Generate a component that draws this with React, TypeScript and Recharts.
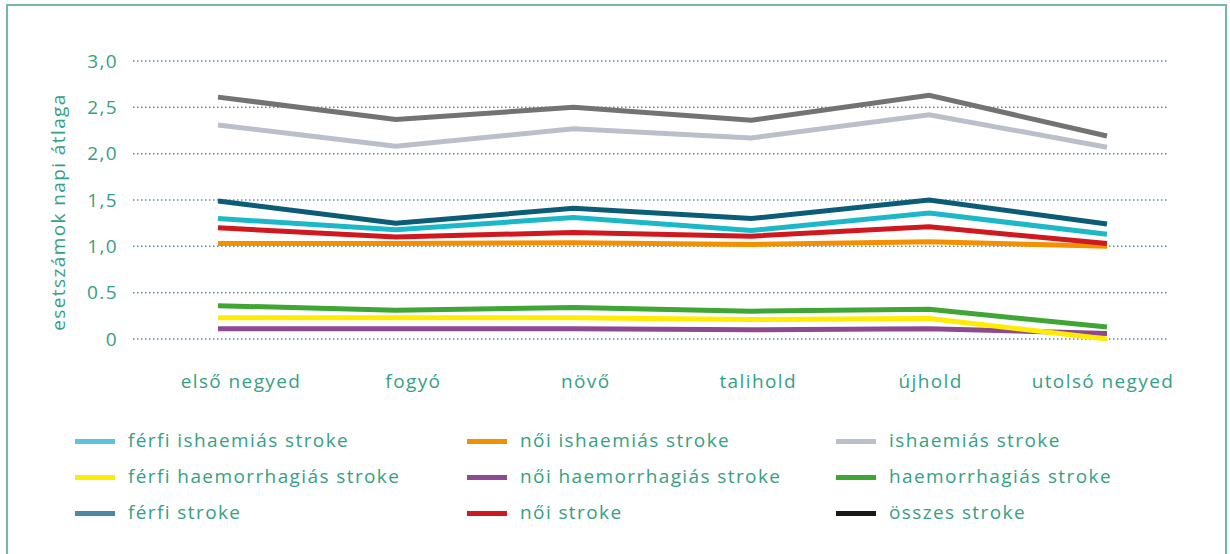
import React from 'react';
import { LineChart, Line, XAxis, YAxis, CartesianGrid } from 'recharts';

const phases = ['első negyed', 'fogyó', 'növő', 'talihold', 'újhold', 'utolsó negyed'];

const ferfiIsch = [1.30, 1.18, 1.31, 1.17, 1.36, 1.13];
const noiIsch = [1.03, 1.03, 1.04, 1.02, 1.05, 1.0];
const isch = [2.31, 2.08, 2.27, 2.17, 2.42, 2.07];
const ferfiHaem = [0.23, 0.23, 0.23, 0.21, 0.22, 0.0];
const noiHaem = [0.11, 0.11, 0.11, 0.1, 0.11, 0.06];
const haem = [0.36, 0.31, 0.34, 0.3, 0.32, 0.13];
const ferfiStroke = [1.49, 1.25, 1.41, 1.3, 1.5, 1.24];
const noiStroke = [1.2, 1.1, 1.15, 1.11, 1.21, 1.03];
const osszes = [2.61, 2.37, 2.5, 2.36, 2.63, 2.19];

const yTicks = [0, 0.5, 1, 1.5, 2, 2.5, 3];
const yTickLabels = ['0', '0.5', '1,0', '1,5', '2,0', '2,5', '3,0'];

const series = [
  { key: 'ferfiIsch', name: 'férfi ishaemiás stroke', values: ferfiIsch, color: '#1cb8c8', legend: '#5bc3dd' },
  { key: 'noiIsch', name: 'női ishaemiás stroke', values: noiIsch, color: '#f39000', legend: '#f39000' },
  { key: 'isch', name: 'ishaemiás stroke', values: isch, color: '#b9c0c9', legend: '#b9c0c9' },
  { key: 'ferfiHaem', name: 'férfi haemorrhagiás stroke', values: ferfiHaem, color: '#ffec00', legend: '#ffec00' },
  { key: 'noiHaem', name: 'női haemorrhagiás stroke', values: noiHaem, color: '#8e4a8e', legend: '#8e4a8e' },
  { key: 'haem', name: 'haemorrhagiás stroke', values: haem, color: '#3fa535', legend: '#3fa535' },
  { key: 'ferfiStroke', name: 'férfi stroke', values: ferfiStroke, color: '#0b5c76', legend: '#4f88a5' },
  { key: 'noiStroke', name: 'női stroke', values: noiStroke, color: '#d0181f', legend: '#d0181f' },
  { key: 'osszes', name: 'összes stroke', values: osszes, color: '#737373', legend: '#1a1a14' },
];

// draw order (back to front)
const drawOrder = ['isch', 'osszes', 'noiIsch', 'noiStroke', 'ferfiIsch', 'ferfiStroke', 'noiHaem', 'ferfiHaem', 'haem'];

const data = phases.map((p, i) => {
  const row: Record<string, any> = { phase: p };
  series.forEach((s) => {
    row[s.key] = s.values[i];
  });
  return row;
});

const TEXT = '#36a084';
const FONT = '"Open Sans", Lato, sans-serif';
const FS = 19;
const LS = 1.4;

const legendCols = [75, 467, 836];
const legendRows = [441, 477, 513];

export default function App() {
  return (
    <div style={{ position: 'absolute', left: 0, top: 0, width: 1230, height: 554, background: '#fff', fontFamily: FONT }}>
      <div
        style={{
          position: 'absolute',
          left: 6,
          top: 4,
          width: 1221,
          height: 560,
          border: '2px solid #72b8a3',
          boxSizing: 'border-box',
        }}
      />
      <LineChart
        width={1230}
        height={554}
        data={data}
        margin={{ top: 61, right: 63, bottom: 155, left: 8 }}
        style={{ position: 'absolute', left: 0, top: 0 }}
      >
        <CartesianGrid
          horizontal
          vertical={false}
          stroke="#5a8ca6"
          strokeWidth={1.5}
          strokeDasharray="1.5 2.5"
        />
        <XAxis dataKey="phase" hide padding={{ left: 85, right: 60 }} />
        <XAxis
          xAxisId="lbl"
          dataKey="phase"
          axisLine={false}
          tickLine={false}
          tickSize={0}
          tickMargin={6}
          height={60}
          interval={0}
          padding={{ left: 108, right: 64 }}
          tick={{ fill: TEXT, fontSize: FS, fontFamily: FONT, letterSpacing: LS }}
        />
        <YAxis
          domain={[0, 3]}
          ticks={yTicks}
          width={125}
          axisLine={false}
          tickLine={false}
          tickSize={0}
          tickMargin={15}
          interval={0}
          tickFormatter={(v: number) => yTickLabels[yTicks.indexOf(v)] ?? String(v)}
          tick={{ fill: TEXT, fontSize: 19, fontFamily: FONT, letterSpacing: LS }}
          label={{
            content: () => (
              <text
                x={58}
                y={212}
                transform="rotate(-90 58 212)"
                textAnchor="middle"
                dominantBaseline="central"
                fill={TEXT}
                fontSize={FS}
                fontFamily={FONT}
                letterSpacing={LS}
              >
                esetszámok napi átlaga
              </text>
            ),
          }}
        />
        {drawOrder.map((k) => {
          const s = series.find((x) => x.key === k)!;
          return (
            <Line
              key={k}
              dataKey={k}
              name={s.name}
              stroke={s.color}
              strokeWidth={5}
              dot={false}
              activeDot={false}
              type="linear"
              strokeLinejoin="miter"
              isAnimationActive={false}
            />
          );
        })}
      </LineChart>
      {series.map((s, i) => {
        const col = i % 3;
        const row = Math.floor(i / 3);
        const x = legendCols[col];
        const y = legendRows[row];
        return (
          <div key={s.key}>
            <div
              style={{
                position: 'absolute',
                left: x,
                top: y - 2.5,
                width: 40,
                height: 5,
                background: s.legend,
              }}
            />
            <div
              style={{
                position: 'absolute',
                left: x + 53,
                top: y - 13,
                height: 24,
                lineHeight: '24px',
                fontSize: FS,
                letterSpacing: LS,
                color: TEXT,
                whiteSpace: 'nowrap',
              }}
            >
              {s.name}
            </div>
          </div>
        );
      })}
    </div>
  );
}
